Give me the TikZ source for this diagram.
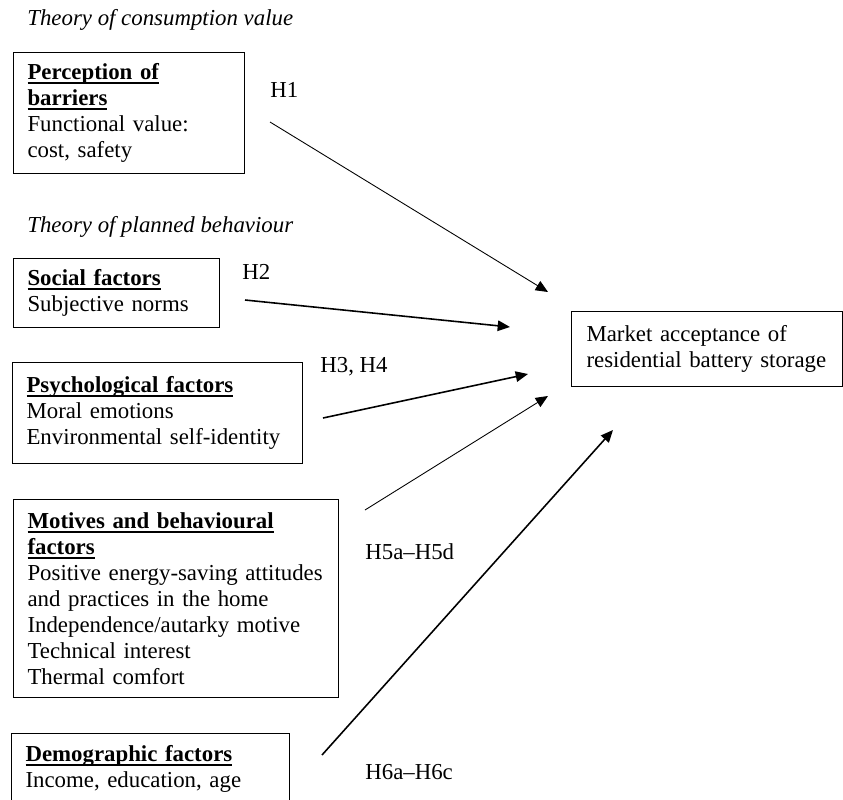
\documentclass[tikz,border=0pt]{standalone}
\usepackage{fontspec}
\setmainfont{Liberation Serif}
\usetikzlibrary{arrows.meta}
% fett und unterstrichen
\newcommand{\ulhead}[1]{\textbf{\setbox0\hbox{#1}\rlap{\rule[-2.6pt]{\wd0}{1.1pt}}\box0}}
\newcommand{\bodyfont}{\fontsize{13}{14.8}\selectfont}

\tikzset{
  factor/.style={draw, line width=0.6pt, anchor=north west, align=left,
                 inner xsep=0.28cm, inner ysep=0pt},
  theory/.style={anchor=west, inner sep=0pt, font=\bodyfont\itshape},
  hyp/.style={anchor=west, inner sep=0pt},
  link/.style={-{Triangle[length=7pt,width=6pt]}, line width=0.5pt},
  linkbold/.style={link, line width=0.9pt}
}

\begin{document}
\begin{tikzpicture}[x=0.02cm, y=-0.02cm, font=\bodyfont]
  \useasboundingbox (0,0) rectangle (843,799);
  \clip (0,0) rectangle (843,799);

  % Theorien
  \node[theory] (tcv) at (27,20) {Theory of consumption value};
  \node[theory] (tpb) at (27,227) {Theory of planned behaviour};

  % Faktoren (links)
  \node[factor, text width=4.06cm, minimum height=2.42cm] (barr) at (13,52)
    {\ulhead{Perception of}\\\ulhead{barriers}\\Functional value:\\cost, safety};
  \node[factor, text width=3.56cm, minimum height=1.38cm] (soc) at (13,258)
    {\ulhead{Social factors}\\Subjective norms};
  \node[factor, text width=5.24cm, minimum height=2.02cm] (psy) at (12,362)
    {\ulhead{Psychological factors}\\Moral emotions\\Environmental self-identity};
  \node[factor, text width=5.94cm, minimum height=3.96cm] (mot) at (13,499)
    {\ulhead{Motives and behavioural}\\\ulhead{factors}\\Positive energy-saving attitudes\\and practices in the home\\Independence/autarky motive\\Technical interest\\Thermal comfort};
  \node[factor, text width=5.0cm, minimum height=1.42cm] (dem) at (11,733)
    {\ulhead{Demographic factors}\\Income, education, age};

  % Zielgroesse
  \node[factor, inner xsep=0.3cm, text width=4.82cm, minimum height=1.5cm] (acc) at (571,311)
    {Market acceptance of\\residential battery storage};

  % Hypothesen
  \node[hyp] (h1) at (270,90) {H1};
  \node[hyp] (h2) at (242,272) {H2};
  \node[hyp] (h3) at (320,367) {H3, H4};
  \node[hyp] (h5) at (365,552) {H5a--H5d};
  \node[hyp] (h6) at (365,772) {H6a--H6c};

  % Pfeile
  \coordinate (p1) at (270,122);  \coordinate (q1) at (548,292);
  \coordinate (p2) at (245,300);  \coordinate (q2) at (510,327);
  \coordinate (p3) at (323,418);  \coordinate (q3) at (528,374);
  \coordinate (p5) at (365,510);  \coordinate (q5) at (548,396);
  \coordinate (p6) at (322,755);  \coordinate (q6) at (613,430);

  \draw[link] (p1) -- (q1);
  \draw[linkbold] (p2) -- (q2);
  \draw[linkbold] (p3) -- (q3);
  \draw[link] (p5) -- (q5);
  \draw[linkbold] (p6) -- (q6);
\end{tikzpicture}
\end{document}
